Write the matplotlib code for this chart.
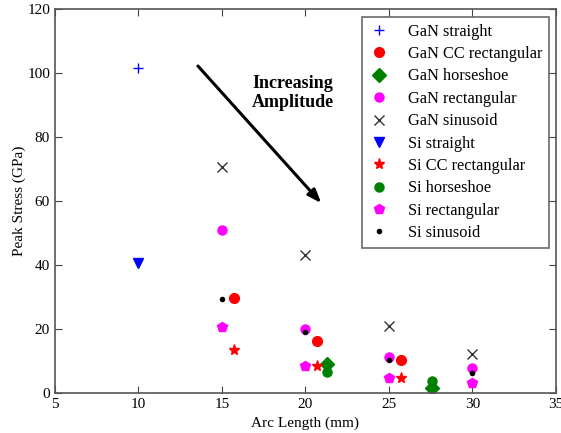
import matplotlib
matplotlib.use("Agg")
import matplotlib.pyplot as plt

plt.rcParams['font.family'] = ['Liberation Serif', 'DejaVu Serif']

gan_straight_x = [10]
gan_straight_y = [101.5]
gan_cc_x = [15.7, 20.7, 25.7]
gan_cc_y = [29.5, 16.3, 10.3]
gan_horse_x = [21.3, 27.6]
gan_horse_y = [9.0, 1.5]
gan_rect_x = [15, 20, 25, 30]
gan_rect_y = [51.0, 19.8, 11.3, 7.8]
gan_sin_x = [15, 20, 25, 30]
gan_sin_y = [70.5, 43.0, 21.0, 12.0]
si_straight_x = [10]
si_straight_y = [40.5]
si_cc_x = [15.7, 20.7, 25.7]
si_cc_y = [13.4, 8.3, 4.6]
si_horse_x = [21.3, 27.6]
si_horse_y = [6.5, 3.7]
si_rect_x = [15, 20, 25, 30]
si_rect_y = [20.5, 8.3, 4.5, 3.0]
si_sin_x = [15, 20, 25, 30]
si_sin_y = [29.3, 19.1, 10.3, 6.1]

fig = plt.figure(figsize=(5.61, 4.33), dpi=100)
ax = fig.add_axes([0.098, 0.093, 0.893, 0.886])

ax.plot(gan_straight_x, gan_straight_y, '+', color='blue', ms=7, mew=1.0, label='GaN straight', ls='none')
ax.plot(gan_cc_x, gan_cc_y, 'o', color='red', ms=7, label='GaN CC rectangular', ls='none')
ax.plot(gan_horse_x, gan_horse_y, 'D', color='green', ms=7, label='GaN horseshoe', ls='none')
ax.plot(gan_rect_x, gan_rect_y, 'o', color='magenta', ms=6.5, label='GaN rectangular', ls='none')
ax.plot(gan_sin_x, gan_sin_y, 'x', color='#333333', ms=7, mew=1.0, label='GaN sinusoid', ls='none')
ax.plot(si_straight_x, si_straight_y, 'v', color='blue', ms=7, label='Si straight', ls='none')
ax.plot(si_cc_x, si_cc_y, '*', color='red', ms=8, label='Si CC rectangular', ls='none')
ax.plot(si_horse_x, si_horse_y, 'o', color='green', ms=6.5, label='Si horseshoe', ls='none')
ax.plot(si_rect_x, si_rect_y, 'p', color='magenta', ms=7, label='Si rectangular', ls='none')
ax.plot(si_sin_x, si_sin_y, '.', color='black', ms=6, label='Si sinusoid', ls='none')

ax.set_xlim(5, 35)
ax.set_ylim(0, 120)
ax.set_xticks([5, 10, 15, 20, 25, 30, 35])
ax.set_yticks([0, 20, 40, 60, 80, 100, 120])
ax.tick_params(direction='in', top=True, right=True, labelsize=11, length=5, color='#444444')
for s in ax.spines.values():
    s.set_color('#555555')
    s.set_linewidth(1.2)
ax.set_xlabel('Arc Length (mm)', fontsize=11)
ax.set_ylabel('Peak Stress (GPa)', fontsize=11, labelpad=1)

ax.annotate('', xy=(20.95, 59.3), xytext=(13.56, 102.2),
            arrowprops=dict(arrowstyle='-|>,head_length=0.8,head_width=0.3', color='black', lw=2.2,
                            shrinkA=0, shrinkB=0))
ax.text(16.8, 93.8, 'Increasing\nAmplitude', fontsize=13, fontweight='bold', ha='left', va='center',
        linespacing=1.2)

leg = ax.legend(loc='upper right', fontsize=11.8, numpoints=1, frameon=True, fancybox=False,
                edgecolor='#444444', borderpad=0.4, labelspacing=0.39, handletextpad=1.1,
                handlelength=1.3, borderaxespad=0, bbox_to_anchor=(0.986, 0.979))
leg.get_frame().set_linewidth(1.2)

fig.savefig('out.png', dpi=100)
